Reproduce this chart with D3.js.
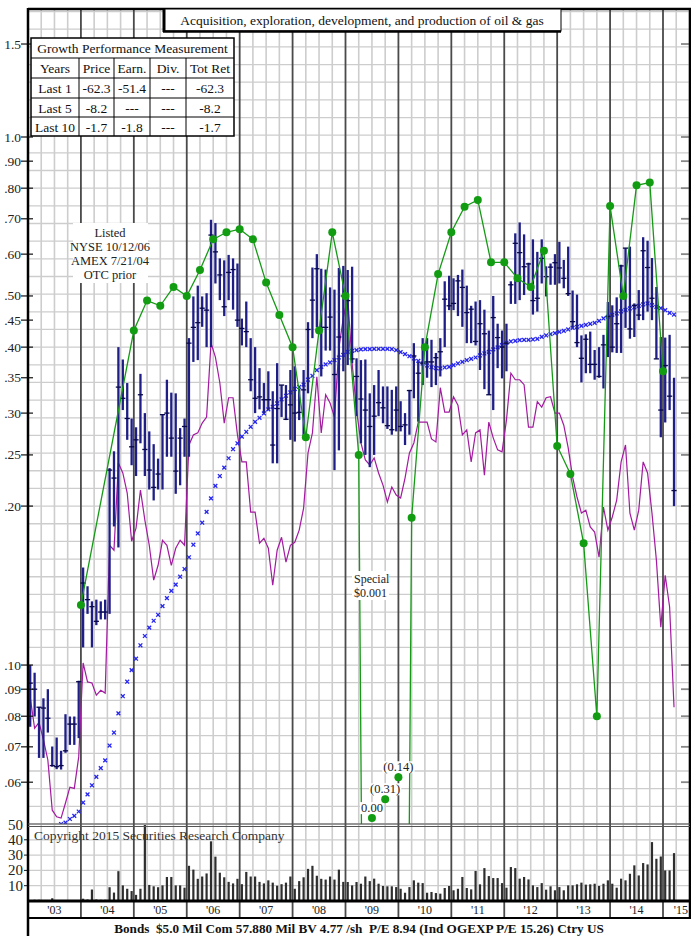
<!DOCTYPE html>
<html><head><meta charset="utf-8">
<script src="https://cdn.jsdelivr.net/npm/d3@7"></script>
<style>
body{margin:0;background:#fff;}
svg{display:block;font-family:"Liberation Serif","Times New Roman",serif;}
</style></head><body>
<svg id="c" width="691" height="936"></svg>
<script>
// ---------------- DATA (month index 0 = Jan 2003) ----------------
const priceHigh = [
0.100,0.0967,0.0833,0.0865,0.090,0.0701,0.0729,0.0688,0.0807,0.0799,0.0799,0.0934,
0.153,0.141,0.132,0.133,0.132,0.133,0.236,0.254,0.400,0.379,0.342,0.293,
0.282,0.356,0.300,0.277,0.262,0.246,0.298,0.347,0.328,0.327,0.281,0.293,
0.416,0.499,0.523,0.499,0.506,0.697,0.687,0.589,0.584,0.598,0.589,0.576,
0.453,0.488,0.416,0.400,0.365,0.342,0.360,0.330,0.373,0.339,0.339,0.362,
0.368,0.334,0.362,0.446,0.566,0.600,0.563,0.561,0.519,0.514,0.565,0.570,
0.560,0.568,0.381,0.378,0.379,0.327,0.339,0.362,0.337,0.337,0.332,0.337,
0.316,0.300,0.332,0.407,0.375,0.416,0.416,0.413,0.390,0.416,0.533,0.546,
0.540,0.548,0.561,0.523,0.479,0.488,0.491,0.471,0.430,0.500,0.443,0.430,
0.443,0.533,0.657,0.689,0.654,0.578,0.640,0.606,0.640,0.569,0.576,0.600,
0.633,0.585,0.620,0.512,0.503,0.421,0.423,0.428,0.395,0.400,0.422,0.487,
0.480,0.497,0.573,0.616,0.620,0.484,0.513,0.646,0.636,0.590,0.520,0.418,
0.417,0.422,0.350];
const priceLow = [
0.0764,0.0799,0.0667,0.0667,0.0745,0.0642,0.0635,0.0634,0.0682,0.0706,0.0706,0.0727,
0.108,0.125,0.108,0.119,0.122,0.122,0.125,0.183,0.167,0.304,0.267,0.239,
0.228,0.263,0.228,0.215,0.205,0.215,0.215,0.248,0.248,0.211,0.219,0.248,
0.248,0.375,0.378,0.437,0.400,0.400,0.528,0.491,0.458,0.491,0.471,0.437,
0.403,0.400,0.330,0.300,0.305,0.300,0.304,0.241,0.241,0.295,0.291,0.267,
0.265,0.291,0.272,0.327,0.416,0.436,0.352,0.394,0.394,0.234,0.255,0.360,
0.370,0.373,0.296,0.263,0.250,0.237,0.250,0.296,0.287,0.280,0.273,0.277,
0.277,0.261,0.273,0.320,0.289,0.339,0.350,0.336,0.339,0.352,0.400,0.470,
0.470,0.458,0.437,0.407,0.407,0.403,0.362,0.333,0.325,0.304,0.365,0.349,
0.360,0.483,0.483,0.491,0.502,0.523,0.461,0.467,0.528,0.499,0.525,0.525,
0.528,0.517,0.500,0.436,0.400,0.343,0.357,0.357,0.347,0.350,0.334,0.383,
0.391,0.390,0.390,0.435,0.415,0.418,0.450,0.450,0.467,0.450,0.380,0.270,
0.288,0.304,0.200];
const priceClose = [
0.0924,0.090,0.0832,0.0829,0.0793,0.0645,0.0642,0.0645,0.0688,0.0773,0.0773,0.0930,
0.143,0.133,0.129,0.121,0.126,0.126,0.234,0.226,0.336,0.320,0.293,0.259,
0.267,0.325,0.256,0.234,0.217,0.230,0.298,0.300,0.269,0.233,0.269,0.283,
0.407,0.436,0.445,0.474,0.470,0.652,0.606,0.548,0.477,0.554,0.561,0.450,
0.434,0.428,0.347,0.320,0.322,0.318,0.318,0.261,0.306,0.339,0.292,0.311,
0.300,0.301,0.332,0.432,0.491,0.563,0.436,0.436,0.456,0.355,0.418,0.500,
0.490,0.380,0.352,0.319,0.304,0.283,0.296,0.314,0.307,0.284,0.279,0.304,
0.283,0.285,0.331,0.385,0.357,0.373,0.375,0.375,0.382,0.392,0.493,0.479,
0.484,0.534,0.519,0.465,0.472,0.410,0.443,0.424,0.325,0.455,0.417,0.400,
0.407,0.525,0.629,0.604,0.568,0.575,0.490,0.495,0.589,0.544,0.567,0.578,
0.565,0.540,0.505,0.447,0.408,0.381,0.414,0.371,0.371,0.352,0.404,0.457,
0.400,0.443,0.570,0.616,0.433,0.480,0.460,0.609,0.566,0.495,0.380,0.304,
0.369,0.323,0.214];
const relStrength = [
0.0869,0.0759,0.0779,0.0722,0.0661,0.0531,0.0516,0.0513,0.0548,0.0587,0.0584,0.0670,
0.1009,0.0929,0.0925,0.0877,0.0896,0.0885,0.1686,0.165,0.2414,0.2311,0.2117,0.1716,
0.1817,0.2145,0.1882,0.1686,0.1448,0.1545,0.1723,0.1686,0.1545,0.1664,0.1723,0.1686,
0.2611,0.2728,0.2752,0.2872,0.2948,0.407,0.383,0.3425,0.2872,0.3208,0.3208,0.2728,
0.2425,0.2425,0.1948,0.1948,0.1701,0.1738,0.1664,0.1416,0.165,0.1746,0.1566,0.1686,
0.1708,0.1801,0.1983,0.2522,0.2752,0.3515,0.2752,0.325,0.3134,0.2948,0.3983,0.4539,
0.4978,0.373,0.3039,0.2634,0.2446,0.2393,0.2468,0.2311,0.2192,0.2035,0.2173,0.2098,
0.2072,0.226,0.2522,0.2634,0.2885,0.2885,0.2885,0.2681,0.2646,0.3351,0.3013,0.3013,
0.3222,0.3106,0.2728,0.2788,0.2425,0.2752,0.2788,0.2289,0.2885,0.2693,0.2556,0.2533,
0.291,0.3571,0.347,0.347,0.3396,0.2823,0.2823,0.3153,0.308,0.3208,0.3222,0.30,
0.30,0.2846,0.2578,0.2269,0.2081,0.194,0.1965,0.1826,0.1786,0.16,0.1991,0.1801,
0.1907,0.2053,0.2425,0.2611,0.194,0.1801,0.1965,0.2425,0.2311,0.194,0.158,0.118,
0.1479,0.1288,0.0832];
const movAvgStart = 7;
const movAvg = [
0.050,0.0503,0.0511,0.0518,0.0528,
0.0549,0.0569,0.0592,0.0614,0.0638,0.066,0.0704,0.0745,0.081,0.0873,0.093,0.0978,
0.1028,0.109,0.1135,0.1177,0.1213,0.1245,0.1293,0.1339,0.1382,0.142,0.147,0.152,
0.160,0.169,0.1775,0.186,0.195,0.2068,0.2184,0.228,0.2365,0.2464,0.2563,0.263,
0.2708,0.2765,0.2826,0.2888,0.2939,0.2996,0.3049,0.3084,0.313,0.3185,0.3236,0.3284,
0.3333,0.3362,0.3396,0.347,0.353,0.3618,0.367,0.3709,0.3741,0.3779,0.3823,0.3867,
0.3918,0.3935,0.3948,0.396,0.3965,0.3965,0.397,0.397,0.397,0.397,0.3965,0.3948,
0.3914,0.388,0.3845,0.3807,0.3767,0.3725,0.3693,0.3666,0.365,0.3645,0.3661,0.367,
0.3698,0.3725,0.3751,0.3779,0.38,0.3823,0.3857,0.3891,0.3918,0.396,0.3995,0.4035,
0.4076,0.41,0.4111,0.4123,0.4129,0.4129,0.4136,0.4147,0.4183,0.4209,0.4233,0.4251,
0.4276,0.4294,0.432,0.435,0.437,0.4389,0.4408,0.4427,0.4447,0.4486,0.4533,0.4565,
0.4605,0.4633,0.4674,0.4706,0.4735,0.4756,0.4789,0.4818,0.4839,0.4803,0.4768,0.474,
0.4699,0.4644,0.4611];
const volume = [
0.3,0.8,0.8,0.3,0.3,1.8,0.3,0.3,0.3,0.3,0.3,0.3,
1.5,1,7.5,1,0.8,0.8,9,5.5,19.5,10.2,8,6.5,
4,8,60,10.5,9.6,9,10.2,15.7,15.7,10.2,10.2,8.7,
23,20.5,14.5,16,18,39,29,18.5,15.5,12.5,11.5,14.5,
11,19,16,16,12.5,11.5,13.5,12,10,11,12,16,
8,13,15.5,21,23,16.5,14.5,14,16,14,20.5,12.5,
12.4,10.2,12.4,11.3,16,13,14.6,11.3,9.8,9.6,9.6,9.1,
8,5.4,9.1,13.5,12,11.7,5.4,5.9,5.2,4.8,8.5,9.8,
7,8,15.7,8.5,7.6,19.6,10.9,21.5,16.3,15,15,11.7,
8.7,22.2,21.5,14.6,15.7,14.1,10.2,9.1,11.7,7.4,9.6,7,
9.1,7,10.2,10.2,10.9,12,10.7,10.9,11.3,9.8,11.3,13.5,
11.3,8.7,14.6,13.5,17.8,23.3,16.7,24.8,23.9,38.5,27.6,29.1,
20,20,31.3];
// earnings (quarter-end month index, plotted value; null = negative/zero quarter)
const earnMonth = [12,24,27,30,33,36,39,42,45,48,51,54,57,60,63,66,69,72,75,78,81,84,87,90,93,96,99,102,105,108,111,114,117,120,123,126,129,132,135,138,141,144];
const earnValue = [0.13,0.43,0.49,0.479,0.52,0.50,0.56,0.64,0.66,0.669,0.64,0.53,0.46,0.40,0.27,0.43,0.66,0.50,0.25,null,null,null,0.19,0.40,0.55,0.66,0.738,0.76,0.579,0.579,0.54,0.52,0.609,0.26,0.23,0.17,0.08,0.74,0.50,0.81,0.82,0.36];
const negEarnMonth = [78,81,84];
const negEarnLabel = ["0.00","(0.31)","(0.14)"];
const negEarnPlot = [0.0513,0.0557,0.0613];
// axes
const priceTicks = [1.5,1.0,0.9,0.8,0.7,0.6,0.5,0.45,0.4,0.35,0.3,0.25,0.2,0.1,0.09,0.08,0.07,0.06];
const priceTickLabels = ["1.5","1.0",".90",".80",".70",".60",".50",".45",".40",".35",".30",".25",".20",".10",".09",".08",".07",".06"];
const volTicks = [10,20,30,40,50];
const yearLabels = ["'03","'04","'05","'06","'07","'08","'09","'10","'11","'12","'13","'14","'15"];
const growthTitle = "Growth Performance Measurement";
const growthHeader = ["Years","Price","Earn.","Div.","Tot Ret"];
const growthRows = [
  ["Last 1","-62.3","-51.4","---","-62.3"],
  ["Last 5","-8.2","---","---","-8.2"],
  ["Last 10","-1.7","-1.8","---","-1.7"]];
const titleText = "Acquisition, exploration, development, and production of oil & gas";
const listedNote = ["Listed","NYSE 10/12/06","AMEX 7/21/04","OTC prior"];
const specialNote = ["Special","$0.001"];
const footerText = "Bonds  $5.0 Mil Com 57.880 Mil BV 4.77 /sh  P/E 8.94 (Ind OGEXP P/E 15.26) Ctry US";
const copyrightText = "Copyright 2015 Securities Research Company";

// ---------------- LAYOUT ----------------
const L = 28, R = 690, T = 9, PB = 824, VB = 901, XB = 918;
const svg = d3.select("#c");
const x = d3.scaleLinear().domain([0,144]).range([28,663]);
const y = d3.scaleLog().domain([0.05,1]).range([824,137]);
const yv = d3.scaleLinear().domain([0,50]).range([VB,824.5]);
const nM = priceHigh.length;

const defs = svg.append("defs");
defs.append("clipPath").attr("id","pclip").append("rect").attr("x",L).attr("y",T).attr("width",R-L).attr("height",PB-T);
defs.append("clipPath").attr("id","vclip").append("rect").attr("x",L).attr("y",PB+1).attr("width",R-L).attr("height",VB-PB-1);

// grid: horizontal price lines
const gridVals = d3.range(0,47).map(k => 0.05*Math.pow(2,k/9));
svg.append("g").selectAll("line").data(gridVals).join("line")
  .attr("x1",L).attr("x2",R).attr("y1",d=>y(d)).attr("y2",d=>y(d))
  .attr("stroke","#cdcdcd").attr("stroke-width",1.3);
// volume horizontal grid
svg.append("g").selectAll("line").data([10,20,30,40]).join("line")
  .attr("x1",L).attr("x2",R).attr("y1",d=>yv(d)).attr("y2",d=>yv(d))
  .attr("stroke","#cdcdcd").attr("stroke-width",1.3);
// quarterly vertical grid
const qMonths = d3.range(0,151,3).filter(m=>m%12!==0);
svg.append("g").selectAll("line").data(qMonths).join("line")
  .attr("x1",d=>x(d)).attr("x2",d=>x(d)).attr("y1",T).attr("y2",VB)
  .attr("stroke","#cdcdcd").attr("stroke-width",1.6);
// year lines
const yMonths = d3.range(12,145,12);
svg.append("g").selectAll("line").data(yMonths).join("line")
  .attr("x1",d=>x(d)).attr("x2",d=>x(d)).attr("y1",T).attr("y2",XB)
  .attr("stroke","#4a4a4a").attr("stroke-width",1.8);

// ---------------- DATA MARKS ----------------
const pg = svg.append("g").attr("clip-path","url(#pclip)");
// relative strength (magenta)
pg.append("path").datum(relStrength)
  .attr("d", d3.line().x((d,i)=>x(i+0.5)).y(d=>y(d)))
  .attr("fill","none").attr("stroke","#a21aa0").attr("stroke-width",1.2);
// moving average x markers
const maG = pg.append("g").attr("stroke","#2626f0").attr("stroke-width",1.3);
movAvg.forEach((v,i)=>{
  const cx = x(movAvgStart+i+0.5), cy = y(v), s=1.9;
  maG.append("line").attr("x1",cx-s).attr("x2",cx+s).attr("y1",cy-s).attr("y2",cy+s);
  maG.append("line").attr("x1",cx-s).attr("x2",cx+s).attr("y1",cy+s).attr("y2",cy-s);
});
// price bars
const bars = pg.append("g");
bars.selectAll("line.hl").data(d3.range(nM)).join("line").attr("class","hl")
  .attr("x1",i=>x(i+0.5)).attr("x2",i=>x(i+0.5))
  .attr("y1",i=>y(priceHigh[i])).attr("y2",i=>y(priceLow[i]))
  .attr("stroke","#1e1e86").attr("stroke-width",2.3);
bars.selectAll("line.cl").data(d3.range(nM)).join("line").attr("class","cl")
  .attr("x1",i=>x(i+0.5)-2.6).attr("x2",i=>x(i+0.5)+2.6)
  .attr("y1",i=>y(priceClose[i])).attr("y2",i=>y(priceClose[i]))
  .attr("stroke","#08084a").attr("stroke-width",1.3);
// earnings line (green)
const floorV = 1e-4;
pg.append("path").datum(earnMonth.map((m,i)=>[m, earnValue[i]===null?floorV:earnValue[i]]))
  .attr("d", d3.line().x(d=>x(d[0])).y(d=>y(d[1])))
  .attr("fill","none").attr("stroke","#169a16").attr("stroke-width",1.3);
pg.append("g").selectAll("circle").data(earnMonth.map((m,i)=>[m,earnValue[i]]).filter(d=>d[1]!==null))
  .join("circle").attr("cx",d=>x(d[0])).attr("cy",d=>y(d[1])).attr("r",4)
  .attr("fill","#129c12");

// volume bars
svg.append("g").attr("clip-path","url(#vclip)").selectAll("rect").data(volume).join("rect")
  .attr("x",(d,i)=>x(i+0.5)-1.1).attr("width",2.2)
  .attr("y",d=>yv(d)).attr("height",d=>VB-yv(d))
  .attr("fill","#2e2e2e");

// ---------------- ANNOTATIONS ----------------
negEarnMonth.forEach((m,i)=>{
  const cx = x(m), cy = y(negEarnPlot[i]);
  const t = svg.append("text").attr("x",cx).attr("y",cy-6).attr("text-anchor","middle")
    .attr("font-size",12.5).attr("fill","#222").text(negEarnLabel[i]);
  const bb = t.node().getBBox();
  svg.insert("rect", () => t.node()).attr("x",bb.x-1).attr("y",bb.y+1).attr("width",bb.width+2).attr("height",bb.height-2).attr("fill","#fff");
  svg.append("circle").attr("cx",cx).attr("cy",cy).attr("r",4).attr("fill","#129c12");
});
{
  const g = svg.append("g");
  g.append("rect").attr("x",73).attr("y",223).attr("width",75).attr("height",60).attr("fill","#fff");
  listedNote.forEach((s,i)=>g.append("text").attr("x",110).attr("y",237+i*14).attr("text-anchor","middle")
    .attr("font-size",12.5).attr("fill","#222").text(s));
}
{
  const g = svg.append("g");
  g.append("rect").attr("x",352).attr("y",571).attr("width",37).attr("height",29).attr("fill","#fff");
  specialNote.forEach((s,i)=>g.append("text").attr("x",354).attr("y",583+i*14)
    .attr("font-size",12).attr("fill","#222").text(s));
}
svg.append("text").attr("x",34).attr("y",840).attr("font-size",13.5).attr("fill","#333").text(copyrightText);

// ---------------- AXES & FRAME ----------------
const la = svg.append("g");
priceTicks.forEach((v,i)=>{
  la.append("line").attr("x1",21).attr("x2",33).attr("y1",y(v)).attr("y2",y(v)).attr("stroke","#111").attr("stroke-width",1.2);
  la.append("text").attr("x",21).attr("y",y(v)+4.5).attr("text-anchor","end").attr("font-size",13.5).attr("fill","#222").text(priceTickLabels[i]);
});
svg.append("g").selectAll("line").data(priceTicks).join("line")
  .attr("x1",681).attr("x2",R).attr("y1",d=>y(d)).attr("y2",d=>y(d)).attr("stroke","#888").attr("stroke-width",1.8);
volTicks.forEach(v=>{
  svg.append("text").attr("x",23).attr("y",yv(v)+5).attr("text-anchor","end").attr("font-size",15).attr("fill","#222").text(v);
  if (v<50) svg.append("line").attr("x1",24).attr("x2",L).attr("y1",yv(v)).attr("y2",yv(v)).attr("stroke","#111");
});
svg.append("line").attr("x1",L).attr("x2",R+2).attr("y1",T).attr("y2",T).attr("stroke","#000").attr("stroke-width",2.5);
svg.append("line").attr("x1",L).attr("x2",L).attr("y1",T-1).attr("y2",936).attr("stroke","#000").attr("stroke-width",2.5);
svg.append("line").attr("x1",R).attr("x2",R).attr("y1",T-1).attr("y2",XB).attr("stroke","#000").attr("stroke-width",2.5);
svg.append("line").attr("x1",L).attr("x2",R).attr("y1",PB).attr("y2",PB).attr("stroke","#555").attr("stroke-width",1.2);
svg.append("line").attr("x1",L).attr("x2",R).attr("y1",PB+2.5).attr("y2",PB+2.5).attr("stroke","#555").attr("stroke-width",1.2);
svg.append("line").attr("x1",L).attr("x2",R).attr("y1",VB).attr("y2",VB).attr("stroke","#000").attr("stroke-width",3);
svg.append("line").attr("x1",L).attr("x2",R+2).attr("y1",XB).attr("y2",XB).attr("stroke","#000").attr("stroke-width",2);
yearLabels.forEach((s,i)=>{
  const last = i === yearLabels.length-1;
  svg.append("text").attr("x", last ? 688 : x(i*12+6)).attr("y",914)
    .attr("text-anchor", last ? "end" : "middle")
    .attr("font-size",12).attr("fill","#222").text(s);
});
svg.append("text").attr("x",359).attr("y",933).attr("text-anchor","middle").attr("font-size",13.2)
  .attr("font-weight","bold").attr("fill","#111").style("white-space","pre").text(footerText);

{
  const g = svg.append("g");
  g.append("rect").attr("x",164).attr("y",T).attr("width",397).attr("height",22).attr("fill","#fff").attr("stroke","#000").attr("stroke-width",1);
  g.append("line").attr("x1",164).attr("x2",164).attr("y1",T).attr("y2",32).attr("stroke","#000").attr("stroke-width",3);
  g.append("line").attr("x1",163).attr("x2",561).attr("y1",31.5).attr("y2",31.5).attr("stroke","#000").attr("stroke-width",2.5);
  g.append("text").attr("x",362).attr("y",25).attr("text-anchor","middle").attr("font-size",13.5).attr("fill","#111").text(titleText);
}

{
  const colX = [31,79,114,150,186,234];
  const rowY = [38,58,78,98,117,136];
  const g = svg.append("g");
  g.append("rect").attr("x",colX[0]).attr("y",rowY[0]).attr("width",colX[5]-colX[0]).attr("height",rowY[5]-rowY[0])
    .attr("fill","#fff").attr("stroke","#000").attr("stroke-width",1.5);
  rowY.slice(1,5).forEach(r=>g.append("line").attr("x1",colX[0]).attr("x2",colX[5]).attr("y1",r).attr("y2",r).attr("stroke","#000").attr("stroke-width",1));
  colX.slice(1,5).forEach(c=>g.append("line").attr("x1",c).attr("x2",c).attr("y1",rowY[1]).attr("y2",rowY[5]).attr("stroke","#000").attr("stroke-width",1));
  g.append("text").attr("x",(colX[0]+colX[5])/2).attr("y",rowY[0]+15).attr("text-anchor","middle").attr("font-size",13.5).attr("fill","#111").text(growthTitle);
  [growthHeader].concat(growthRows).forEach((row,ri)=>{
    row.forEach((s,ci)=>{
      g.append("text").attr("x",(colX[ci]+colX[ci+1])/2).attr("y",rowY[ri+1]+15)
        .attr("text-anchor","middle").attr("font-size",13.5).attr("fill","#111").text(s);
    });
  });
}
</script>
</body></html>
